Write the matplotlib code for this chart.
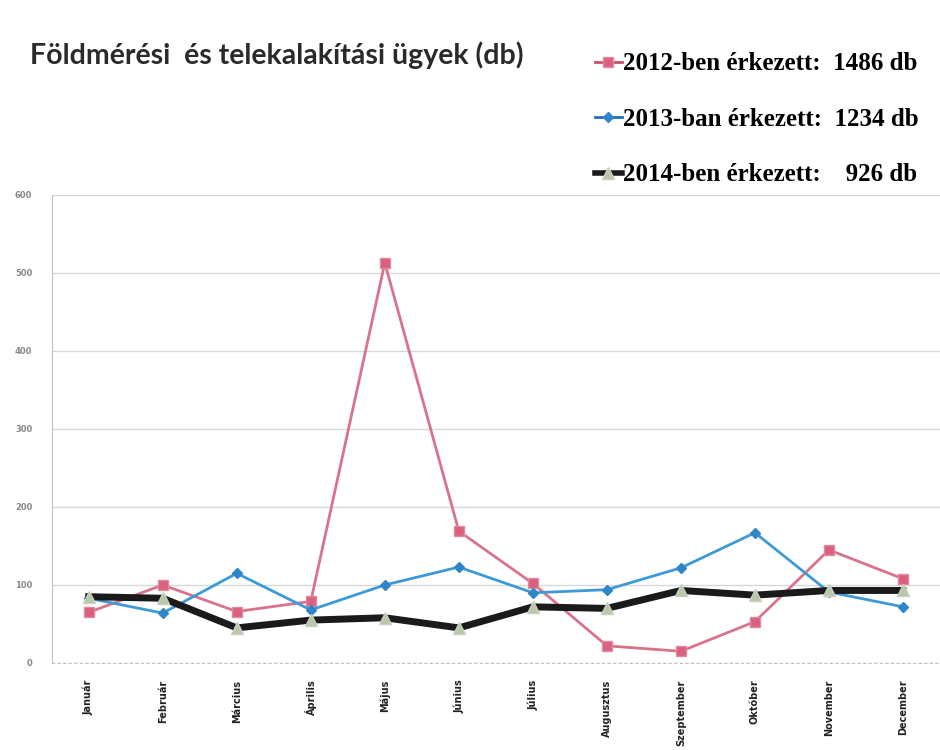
import matplotlib.pyplot as plt
from matplotlib.lines import Line2D

honapok = ["Január", "Február", "Március", "Április", "Május", "Június",
           "Július", "Augusztus", "Szeptember", "Október", "November", "December"]
ev_2012 = [65, 100, 66, 79, 513, 169, 102, 22, 15, 53, 145, 108]
ev_2013 = [83, 64, 115, 68, 100, 123, 90, 94, 122, 167, 91, 72]
ev_2014 = [85, 83, 45, 55, 58, 45, 72, 70, 93, 87, 93, 93]
y_ticks = [0, 100, 200, 300, 400, 500, 600]

cim = "Földmérési  és telekalakítási ügyek (db)"
cimkek = ["2012-ben érkezett:  1486 db",
          "2013-ban érkezett:  1234 db",
          "2014-ben érkezett:    926 db"]

pink = "#d9738c"
blue = "#3d9ad6"

fig = plt.figure(figsize=(9.4, 7.5), dpi=100)
ax = fig.add_axes([0.055, 0.116, 0.945, 0.624])

x = list(range(len(honapok)))
ax.plot(x, ev_2012, color=pink, lw=2, marker="s", ms=7, mfc="#d9607f", mec="#e08aa0", zorder=3)
ax.plot(x, ev_2013, color=blue, lw=2, marker="D", ms=5, mfc="#2e86c8", mec="#2e86c8", zorder=3)
ax.plot(x, ev_2014, color="#1a1a1a", lw=5, marker="^", ms=9, mfc="#b8c8a8", mec="#c8d0c0", zorder=4)

ax.set_xlim(-0.5, 11.5)
ax.set_ylim(0, 600)
ax.set_yticks(y_ticks)
ax.set_yticklabels(y_ticks, fontsize=6, color="#888888", fontweight="bold")
ax.set_xticks(x)
ax.set_xticklabels(honapok, rotation=90, fontsize=7, fontweight="bold", color="#222222")
ax.tick_params(length=0, pad=12)
ax.tick_params(axis="y", pad=14)
ax.grid(axis="y", color="#d8d8d8", lw=1)
ax.set_axisbelow(True)
for s in ["top", "right"]:
    ax.spines[s].set_visible(False)
ax.spines["left"].set_color("#c0c0c0")
ax.spines["bottom"].set_color("#c0c0c0")
ax.spines["bottom"].set_linestyle((0, (2, 3)))

fig.text(0.032, 0.927, cim, fontsize=20.5, fontweight="bold", family="Lato", color="#2a2a2a",
         va="center")

handles = [
    Line2D([], [], color="#c8506a", lw=2, marker="s", ms=7, mfc="#d9607f", mec="#e08aa0"),
    Line2D([], [], color="#1f6fb8", lw=2, marker="D", ms=5, mfc="#2e86c8", mec="#2e86c8"),
    Line2D([], [], color="#1a1a1a", lw=4, marker="^", ms=9, mfc="#b8c8a8", mec="#c8d0c0"),
]
fig.legend(handles, cimkek, loc="upper right", bbox_to_anchor=(0.991, 0.947), frameon=False,
           handlelength=1.1, handletextpad=0.05, labelspacing=1.3, borderpad=0,
           prop={"family": "Liberation Serif", "weight": "bold", "size": 18})

fig.savefig("out.png", dpi=100, facecolor="white")
